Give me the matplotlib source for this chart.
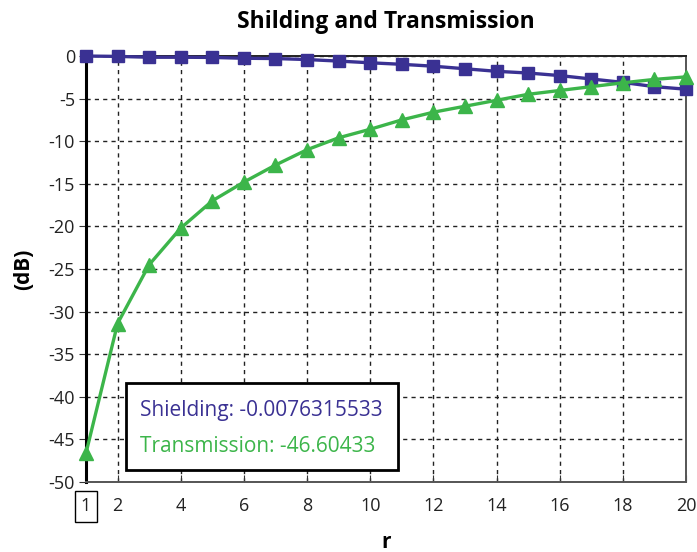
import numpy as np
import matplotlib.pyplot as plt
from matplotlib.patches import Rectangle

plt.rcParams['font.family'] = ['Open Sans', 'DejaVu Sans']
plt.rcParams['axes.unicode_minus'] = False

# Data
r = np.arange(1, 21)
shielding = [-0.0076, -0.05, -0.15, -0.15, -0.17, -0.27, -0.3, -0.42, -0.6, -0.8,
             -0.98, -1.2, -1.5, -1.8, -2.0, -2.3, -2.7, -3.1, -3.6, -3.9]
transmission = [-46.6, -31.4, -24.5, -20.2, -17.0, -14.8, -12.8, -11.0, -9.6, -8.6,
                -7.5, -6.6, -5.9, -5.2, -4.5, -4.05, -3.6, -3.15, -2.75, -2.45]
xticks = [1, 2, 4, 6, 8, 10, 12, 14, 16, 18, 20]
yticks = [0, -5, -10, -15, -20, -25, -30, -35, -40, -45, -50]

blue = '#3a3193'
green = '#3cb54a'

fig = plt.figure(figsize=(6.97, 5.52), dpi=100)
ax = fig.add_axes([0.1234, 0.1268, 0.8608, 0.7718])

ax.plot(r, shielding, color=blue, lw=2.4, marker='s', ms=8.5, zorder=3, clip_on=False)
ax.plot(r, transmission, color=green, lw=2.4, marker='^', ms=9.5, zorder=4, clip_on=False)

ax.set_xlim(1, 20)
ax.set_ylim(-50, 0)
ax.set_xticks(xticks)
ax.set_yticks(yticks)
ax.grid(True, color='#222222', linestyle=(0, (3, 3)), linewidth=1.0)
ax.set_axisbelow(True)

ax.tick_params(axis='y', direction='out', length=5, labelsize=13, colors='#333333', pad=3)
ax.tick_params(axis='x', direction='in', length=5, labelsize=13, colors='#333333', pad=11)
for t in ax.get_yticklabels() + ax.get_xticklabels():
    t.set_color('#222222')

ax.spines['left'].set_color('black')
ax.spines['left'].set_linewidth(2.2)
ax.spines['bottom'].set_color('#555555')
ax.spines['bottom'].set_linewidth(1.4)
ax.spines['right'].set_color('#555555')
ax.spines['right'].set_linewidth(1.4)
ax.spines['top'].set_color('#222222')
ax.spines['top'].set_linewidth(1.4)

ax.get_xticklabels()[0].set_bbox(dict(boxstyle='square,pad=0.35', facecolor='none',
                                      edgecolor='black', linewidth=1.0))

ax.set_title('Shilding and Transmission', fontsize=16.5, fontweight='bold', pad=20)
ax.set_ylabel('(dB)', fontsize=15, fontweight='bold', labelpad=10)
ax.set_xlabel('r', fontsize=15, fontweight='bold', labelpad=12)

# value box
ax.add_patch(Rectangle((0.0667, 0.028), 0.453, 0.204, transform=ax.transAxes,
                       facecolor='white', edgecolor='black', linewidth=2, zorder=5))
ax.text(0.09, 0.168, 'Shielding: -0.0076315533', transform=ax.transAxes,
        color=blue, fontsize=15, va='center', zorder=6)
ax.text(0.09, 0.083, 'Transmission: -46.60433', transform=ax.transAxes,
        color=green, fontsize=15, va='center', zorder=6)

fig.savefig('out.png', dpi=100)
